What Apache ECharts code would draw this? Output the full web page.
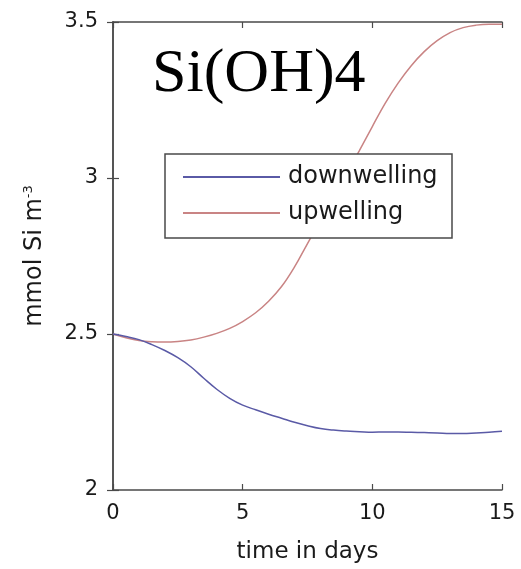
<!DOCTYPE html>
<html>
<head>
<meta charset="utf-8">
<script src="https://cdn.jsdelivr.net/npm/echarts@6/dist/echarts.min.js"></script>
<style>
html,body{margin:0;padding:0;background:#fff;}
#chart{width:521px;height:569px;}
</style>
</head>
<body>
<div id="chart"></div>
<script>
const titleText = "Si(OH)4";
const seriesNames = ["downwelling", "upwelling"];
const timeDays = [0,0.5,1,1.5,2,2.5,3,3.5,4,4.5,5,5.5,6,6.5,7,7.5,8,8.5,9,9.5,10,10.5,11,11.5,12,12.5,13,13.5,14,14.5,15];
const downwelling = [2.50,2.492,2.482,2.466,2.447,2.424,2.395,2.358,2.323,2.294,2.272,2.257,2.243,2.23,2.217,2.206,2.197,2.192,2.189,2.187,2.185,2.186,2.186,2.185,2.184,2.183,2.181,2.181,2.183,2.185,2.188];
const upwelling = [2.50,2.488,2.479,2.475,2.474,2.476,2.481,2.49,2.502,2.518,2.54,2.568,2.605,2.652,2.715,2.79,2.865,2.94,3.012,3.088,3.165,3.24,3.305,3.36,3.405,3.44,3.466,3.482,3.49,3.493,3.493];
const xTicks = [0, 5, 10, 15];
const yTicks = [2, 2.5, 3, 3.5];
const xAxisName = "time in days";

const sans = "DejaVu Sans";
const axisColor = "#4a4a4a";
const textColor = "#1a1a1a";
const colors = ["#5a5aa6", "#c98484"];

function pairs(xs, ys){ return xs.map((x,i)=>[x, ys[i]]); }

const chart = echarts.init(document.getElementById('chart'), null, {renderer:'canvas'});
const xMin = xTicks[0], xMax = xTicks[xTicks.length-1], xInt = xTicks[1]-xTicks[0];
const yMin = yTicks[0], yMax = yTicks[yTicks.length-1], yInt = yTicks[1]-yTicks[0];

const axisLineStyle = {show:true, lineStyle:{color:axisColor, width:1.5}};
const tickStyle = {show:true, inside:true, length:6, lineStyle:{color:axisColor, width:1.2}};

chart.setOption({
  animation:false,
  backgroundColor:'#fff',
  title:{
    text:titleText, left:152, top:44, padding:0,
    textStyle:{fontFamily:'Liberation Serif', fontSize:62, fontWeight:'normal', color:'#000'}
  },
  grid:{left:113, right:19, top:22, bottom:78, containLabel:false},
  graphic:[{
    type:'rect', z:10, zlevel:0,
    shape:{x:165, y:154, width:287, height:84},
    style:{fill:'#fff', stroke:axisColor, lineWidth:1.5}
  }],
  legend:{
    data:seriesNames, orient:'vertical', left:165, top:154, z:20,
    padding:[11,15,13,18], itemGap:12, itemWidth:97, itemHeight:2, icon:'rect',
    textStyle:{fontFamily:sans, fontSize:24, color:textColor, padding:[0,0,0,3]}
  },
  xAxis:[{
    type:'value', min:xMin, max:xMax, interval:xInt, position:'bottom',
    name:xAxisName, nameLocation:'middle', nameGap:51,
    nameTextStyle:{fontFamily:sans, fontSize:23, color:textColor},
    axisLine:axisLineStyle, axisTick:tickStyle, splitLine:{show:false},
    axisLabel:{fontFamily:sans, fontSize:21, color:textColor, margin:13}
  },{
    type:'value', min:xMin, max:xMax, interval:xInt, position:'top',
    axisLine:axisLineStyle, axisTick:tickStyle, splitLine:{show:false}, axisLabel:{show:false}
  }],
  yAxis:[{
    type:'value', min:yMin, max:yMax, interval:yInt, position:'left',
    name:'{n|mmol Si m}{s|-3}', nameLocation:'middle', nameGap:66,
    nameTextStyle:{rich:{
      n:{fontFamily:sans, fontSize:24, color:textColor},
      s:{fontFamily:sans, fontSize:13, color:textColor, verticalAlign:'top', padding:[0,0,12,0]}
    }},
    axisLine:axisLineStyle, axisTick:tickStyle, splitLine:{show:false},
    axisLabel:{fontFamily:sans, fontSize:21, color:textColor, margin:15}
  },{
    type:'value', min:yMin, max:yMax, interval:yInt, position:'right',
    axisLine:axisLineStyle, axisTick:tickStyle, splitLine:{show:false}, axisLabel:{show:false}
  }],
  series:[{
    name:seriesNames[0], type:'line', xAxisIndex:0, yAxisIndex:0,
    data:pairs(timeDays, downwelling), symbol:'none', smooth:0.4,
    lineStyle:{color:colors[0], width:1.5}, itemStyle:{color:colors[0]}, z:2
  },{
    name:seriesNames[1], type:'line', xAxisIndex:0, yAxisIndex:0,
    data:pairs(timeDays, upwelling), symbol:'none', smooth:0.4,
    lineStyle:{color:colors[1], width:1.5}, itemStyle:{color:colors[1]}, z:1
  }]
});
</script>
</body>
</html>
